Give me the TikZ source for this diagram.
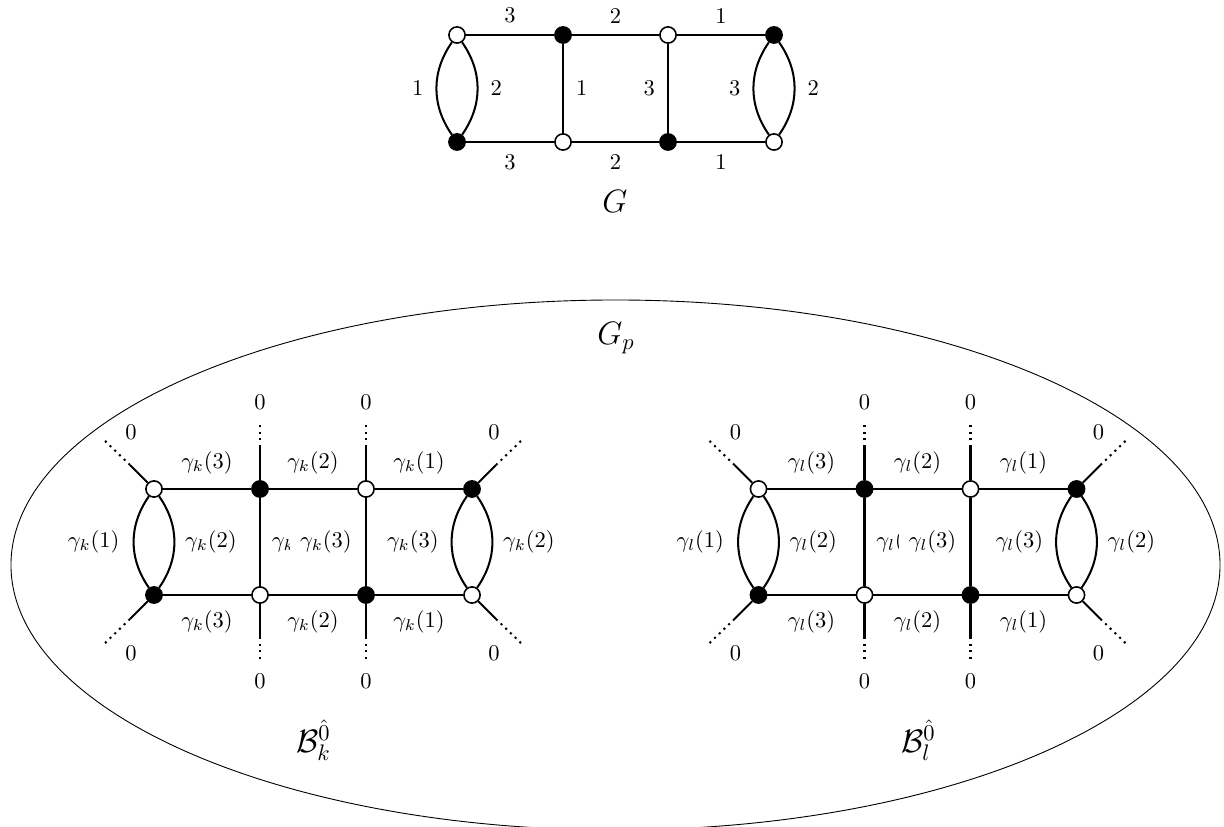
\documentclass[tikz,border=0pt]{standalone}
\begin{document}
\begin{tikzpicture}[x=0.4444pt,y=0.4444pt,
  wv/.style={circle,draw,fill=white,minimum size=7.2pt,inner sep=0pt,line width=0.7pt},
  bv/.style={wv,fill=black},
  edge/.style={line width=0.9pt},
  stub/.style={line width=0.9pt,dotted},
  big/.style={font=\Large,anchor=base},
]
\useasboundingbox (0,0) rectangle (1224,-827);
\clip (0,0) rectangle (1224,-827);

% ---- top graph G ----
\node[wv] (a1) at (457,-35) {};
\node[bv] (a2) at (563,-35) {};
\node[wv] (a3) at (668,-35) {};
\node[bv] (a4) at (774,-35) {};
\node[bv] (b1) at (457,-142) {};
\node[wv] (b2) at (563,-142) {};
\node[bv] (b3) at (668,-142) {};
\node[wv] (b4) at (774,-142) {};
\draw[edge] (a1) -- node[above=1.5pt]{3} (a2);
\draw[edge] (a2) -- node[above=1.5pt]{2} (a3);
\draw[edge] (a3) -- node[above=1.5pt]{1} (a4);
\draw[edge] (b1) -- node[below=2pt]{3} (b2);
\draw[edge] (b2) -- node[below=2pt]{2} (b3);
\draw[edge] (b3) -- node[below=2pt]{1} (b4);
\draw[edge] (a2) -- node[right=2pt]{1} (b2);
\draw[edge] (a3) -- node[left=2pt]{3} (b3);
\draw[edge] (a1) to[bend right=35] node[left=2pt]{1} (b1);
\draw[edge] (a1) to[bend left=35] node[right=2pt]{2} (b1);
\draw[edge] (a4) to[bend right=35] node[left=2pt]{3} (b4);
\draw[edge] (a4) to[bend left=35] node[right=2pt]{2} (b4);
\node[big] (G) at (615,-213) {$G$};

% ---- big ellipse G_p ----
\draw (615.5,-565) ellipse [x radius=268.65pt, y radius=117.77pt];
\node[big] (Gp) at (616,-345) {$G_p$};

% ---- two bubbles ----
\foreach \s/\cx/\g in {k/313/L,l/917.5/R}{
  \node[wv] (\g a1) at ({\cx-159},-489) {};
  \node[bv] (\g a2) at ({\cx-53},-489) {};
  \node[wv] (\g a3) at ({\cx+53},-489) {};
  \node[bv] (\g a4) at ({\cx+159},-489) {};
  \node[bv] (\g b1) at ({\cx-159},-595) {};
  \node[wv] (\g b2) at ({\cx-53},-595) {};
  \node[bv] (\g b3) at ({\cx+53},-595) {};
  \node[wv] (\g b4) at ({\cx+159},-595) {};
  % external stubs
  \coordinate (\g u2s) at ({\cx-53},-447);
  \coordinate (\g u2t) at ({\cx-53},-421);
  \coordinate (\g u3s) at ({\cx+53},-447);
  \coordinate (\g u3t) at ({\cx+53},-421);
  \coordinate (\g d2s) at ({\cx-53},-637);
  \coordinate (\g d2t) at ({\cx-53},-663);
  \coordinate (\g d3s) at ({\cx+53},-637);
  \coordinate (\g d3t) at ({\cx+53},-663);
  \coordinate (\g u1s) at ({\cx-183},-465);
  \coordinate (\g u1t) at ({\cx-210},-439);
  \coordinate (\g u4s) at ({\cx+183},-465);
  \coordinate (\g u4t) at ({\cx+210},-439);
  \coordinate (\g d1s) at ({\cx-183},-619);
  \coordinate (\g d1t) at ({\cx-210},-645);
  \coordinate (\g d4s) at ({\cx+183},-619);
  \coordinate (\g d4t) at ({\cx+210},-645);
  \draw[edge] (\g a2) -- (\g u2s);
  \draw[stub] (\g u2s) -- (\g u2t) node[above=1pt]{0};
  \draw[edge] (\g a3) -- (\g u3s);
  \draw[stub] (\g u3s) -- (\g u3t) node[above=1pt]{0};
  \draw[edge] (\g b2) -- (\g d2s);
  \draw[stub] (\g d2s) -- (\g d2t) node[below=1pt]{0};
  \draw[edge] (\g b3) -- (\g d3s);
  \draw[stub] (\g d3s) -- (\g d3t) node[below=1pt]{0};
  \draw[edge] (\g a1) -- (\g u1s);
  \draw[stub] (\g u1s) -- (\g u1t);
  \draw[edge] (\g a4) -- (\g u4s);
  \draw[stub] (\g u4s) -- (\g u4t);
  \draw[edge] (\g b1) -- (\g d1s);
  \draw[stub] (\g d1s) -- (\g d1t);
  \draw[edge] (\g b4) -- (\g d4s);
  \draw[stub] (\g d4s) -- (\g d4t);
  \node (\g z1) at ({\cx-182},-432) {0};
  \node (\g z4) at ({\cx+181},-432) {0};
  \node (\g z5) at ({\cx-182},-653) {0};
  \node (\g z8) at ({\cx+181},-653) {0};
  % internal edges
  \draw[edge] (\g a1) -- node[above=3pt]{$\gamma_\s(3)$} (\g a2);
  \draw[edge] (\g a2) -- node[above=3pt]{$\gamma_\s(2)$} (\g a3);
  \draw[edge] (\g a3) -- node[above=3pt]{$\gamma_\s(1)$} (\g a4);
  \draw[edge] (\g b1) -- node[below=3pt]{$\gamma_\s(3)$} (\g b2);
  \draw[edge] (\g b2) -- node[below=3pt]{$\gamma_\s(2)$} (\g b3);
  \draw[edge] (\g b3) -- node[below=3pt]{$\gamma_\s(1)$} (\g b4);
  \draw[edge] (\g a1) to[bend right=35] node[left=2.5pt]{$\gamma_\s(1)$} (\g b1);
  \draw[edge] (\g a1) to[bend left=35] node[right=1pt]{$\gamma_\s(2)$} (\g b1);
  \draw[edge] (\g a4) to[bend right=35] node[left=2pt]{$\gamma_\s(3)$} (\g b4);
  \draw[edge] (\g a4) to[bend left=35] node[right=1pt]{$\gamma_\s(2)$} (\g b4);
  \draw[edge] (\g a2) -- node[right=1.5pt]{$\gamma_\s(1)$} (\g b2);
  \draw[edge] (\g a3) -- node[left=1.3pt,fill=white,inner xsep=4.6pt]{$\gamma_\s(3)$} (\g b3);
}
\node[big] (Bk) at (313.5,-752) {$\mathcal{B}_k^{\hat{0}}$};
\node[big] (Bl) at (918.5,-752) {$\mathcal{B}_l^{\hat{0}}$};
\end{tikzpicture}
\end{document}
